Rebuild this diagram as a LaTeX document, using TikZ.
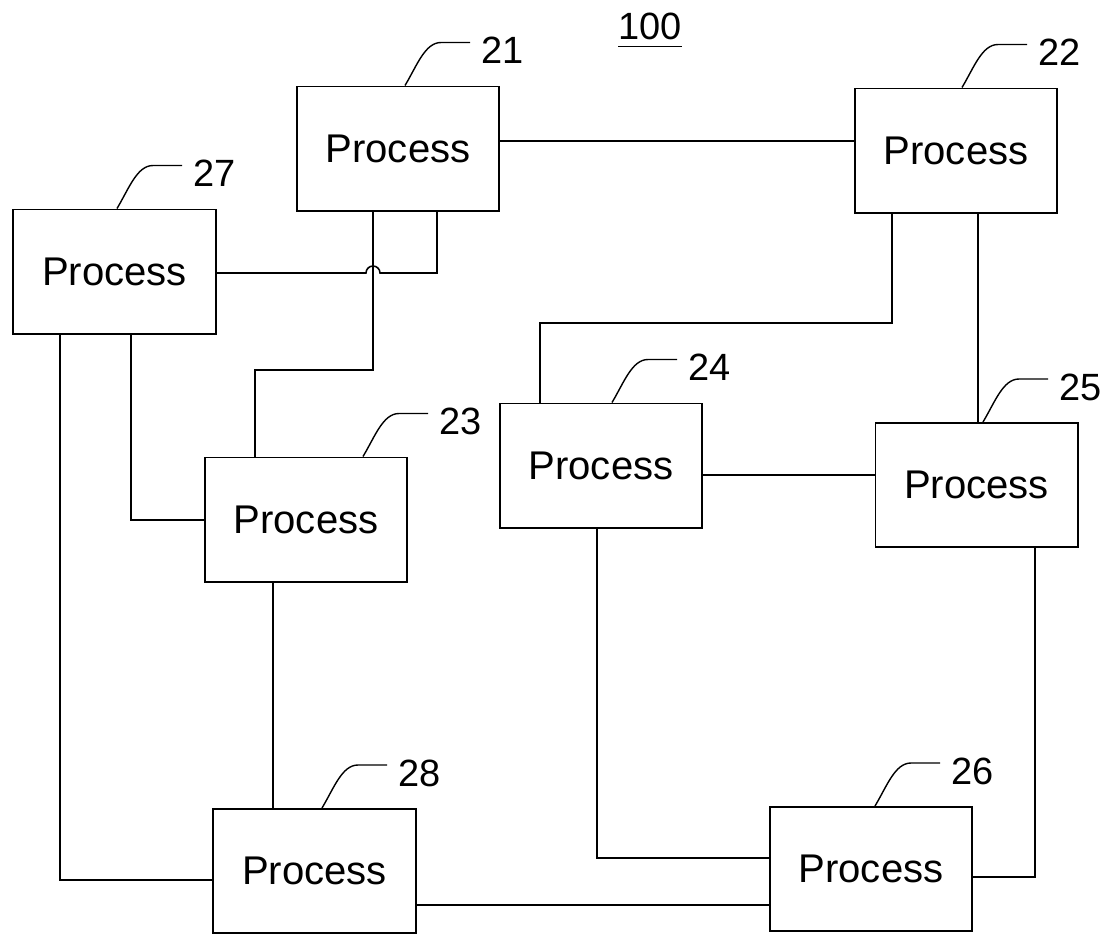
\documentclass[tikz,border=0pt]{standalone}
\usepackage{fontspec}
\setmainfont{Liberation Sans}

\begin{document}
\begin{tikzpicture}[x=0.025cm,y=0.025cm,
  procbox/.style={draw,line width=1.4pt,minimum width=5.05cm,minimum height=3.1cm,inner sep=0pt,font=\fontsize{28.5}{30}\selectfont},
  wire/.style={line width=1.1pt},
  leader/.style={line width=1pt},
  numlbl/.style={anchor=west,inner sep=0pt,xshift=0.27cm,yshift=-0.2cm,font=\fontsize{27}{28}\selectfont}]

  \useasboundingbox (0,0) rectangle (1105,-934);

  % figure number
  \node[font=\fontsize{27}{28}\selectfont,inner sep=0pt] (n100) at (650,-26) {100};
  \draw[line width=1pt] ([yshift=-0.17cm]n100.south west) -- ([yshift=-0.17cm]n100.south east);

  % process blocks
  \node[procbox] (n21) at (398,-148.5) {Process};
  \node[procbox] (n22) at (956,-150.5) {Process};
  \node[procbox] (n27) at (114.5,-271.5) {Process};
  \node[procbox] (n23) at (306,-519.5) {Process};
  \node[procbox] (n24) at (601,-465.5) {Process};
  \node[procbox] (n25) at (976.5,-485) {Process};
  \node[procbox] (n28) at (314.5,-871) {Process};
  \node[procbox] (n26) at (871,-869) {Process};

  % connections
  \draw[wire] (n21.east |- 0,-141) -- (n22.west |- 0,-141);
  \draw[wire] (n27.east |- 0,-273) -- (366,-273) arc[start angle=180,end angle=0,radius=7] -- (437,-273) -- (437,0 |- n21.south);
  \draw[wire] (373,0 |- n21.south) |- (255,-370) -- (255,0 |- n23.north);
  \draw[wire] (892,0 |- n22.south) |- (540,-323) -- (540,0 |- n24.north);
  \draw[wire] (978,0 |- n22.south) -- (978,0 |- n25.north);
  \draw[wire] (60,0 |- n27.south) |- (n28.west |- 0,-880);
  \draw[wire] (131,0 |- n27.south) |- (n23.west |- 0,-520);
  \draw[wire] (273,0 |- n23.south) -- (273,0 |- n28.north);
  \draw[wire] (n24.east |- 0,-475) -- (n25.west |- 0,-475);
  \draw[wire] (597,0 |- n24.south) |- (n26.west |- 0,-858);
  \draw[wire] (1035,0 |- n25.south) |- (n26.east |- 0,-877);
  \draw[wire] (n28.east |- 0,-905) -- (n26.west |- 0,-905);

  % reference numerals
  \foreach \n/\sx in {21/405, 22/962, 27/117, 23/363, 24/612, 25/983, 28/322, 26/875}
    \draw[leader] (\sx,0 |- n\n.north) .. controls +(12,20) and +(-16,0) .. ++(36,43) -- ++(29,0) node[numlbl] (l\n) {\n};
\end{tikzpicture}
\end{document}
